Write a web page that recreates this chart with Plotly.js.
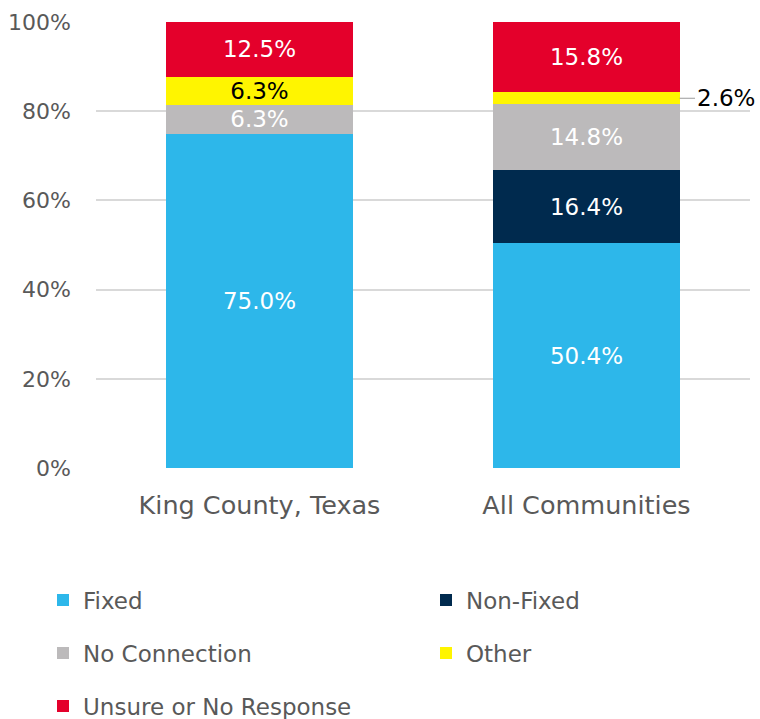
<!DOCTYPE html>
<html>
<head>
<meta charset="utf-8">
<script src="https://cdn.plot.ly/plotly-3.0.1.min.js"></script>
<style>html,body{margin:0;padding:0;background:#fff;}#chart{width:760px;height:719px;}</style>
</head>
<body>
<div id="chart"></div>
<script>
const categories = ["King County, Texas", "All Communities"];
const seriesNames = ["Fixed", "Non-Fixed", "No Connection", "Other", "Unsure or No Response"];
const fixed = [75.0, 50.4];
const nonFixed = [0, 16.4];
const noConnection = [6.3, 14.8];
const other = [6.3, 2.6];
const unsure = [12.5, 15.8];
const yTicks = [0, 20, 40, 60, 80, 100];
const colors = ["#2DB7EA", "#002A4E", "#BCBABB", "#FFF500", "#E4002B"];
const textColors = ["#FFFFFF", "#FFFFFF", "#FFFFFF", "#000000", "#FFFFFF"];
const legendOf = ["legend", "legend", "legend2", "legend2", "legend3"];
const legendCol = [0, 1, 0, 1, 0];
const series = [fixed, nonFixed, noConnection, other, unsure];

const FONT = "'DejaVu Sans', 'Open Sans', sans-serif";
const GREY = "#595959";
const BARGAP = 0.431;
const MIN_INSIDE = 3.0; // segments this thin get an outside callout

const traces = series.map((vals, i) => ({
  type: "bar",
  name: seriesNames[i],
  x: categories,
  y: vals,
  marker: {color: colors[i], line: {width: 0}},
  text: vals.map(v => (v > MIN_INSIDE ? v.toFixed(1) + "%" : "")),
  textposition: "inside",
  insidetextanchor: "middle",
  constraintext: "none",
  insidetextfont: {family: FONT, size: 23, color: textColors[i]},
  hoverinfo: "skip",
  legend: legendOf[i],
  legendwidth: legendCol[i] === 0 ? 338 : 150
}));

// callouts for thin segments
const annotations = [];
categories.forEach((c, ci) => {
  let cum = 0;
  series.forEach((vals, si) => {
    const v = vals[ci];
    if (v > 0 && v <= MIN_INSIDE) {
      annotations.push({
        x: ci + (1 - BARGAP) / 2,
        y: cum + v / 2,
        xref: "x", yref: "y",
        text: v.toFixed(1) + "%",
        showarrow: true,
        arrowhead: 0,
        arrowwidth: 1.2,
        arrowcolor: "#9a9a9a",
        ax: 46, ay: 0,
        standoff: 0,
        font: {family: FONT, size: 23, color: "#000000"}
      });
    }
    cum += v;
  });
});

const legendBase = {
  orientation: "h",
  xref: "container", yref: "container",
  xanchor: "left", yanchor: "middle",
  x: 43 / 760,
  font: {family: FONT, size: 23, color: GREY},
  bgcolor: "rgba(0,0,0,0)",
  traceorder: "normal"
};

const layout = {
  width: 760, height: 719,
  margin: {l: 96, r: 10, t: 22, b: 251},
  paper_bgcolor: "#fff",
  plot_bgcolor: "#fff",
  barmode: "stack",
  bargap: BARGAP,
  font: {family: FONT, color: GREY},
  xaxis: {
    type: "category",
    range: [-0.5, categories.length - 0.5],
    tickfont: {family: FONT, size: 25.5, color: GREY},
    ticks: "",
    showline: false,
    showgrid: false,
    ticklabelstandoff: 19
  },
  yaxis: {
    range: [0, 100],
    tickvals: yTicks,
    ticktext: yTicks.map(t => t + "%"),
    tickfont: {family: FONT, size: 22, color: GREY},
    showgrid: true,
    gridcolor: "#D9D9D9",
    gridwidth: 2,
    zeroline: false,
    showline: false,
    ticks: "",
    ticklabelstandoff: 24
  },
  showlegend: true,
  legend: Object.assign({}, legendBase, {y: 1 - 600 / 719}),
  legend2: Object.assign({}, legendBase, {y: 1 - 653 / 719}),
  legend3: Object.assign({}, legendBase, {y: 1 - 706 / 719}),
  annotations: annotations
};

Plotly.newPlot("chart", traces, layout, {displayModeBar: false, staticPlot: true});
</script>
</body>
</html>
